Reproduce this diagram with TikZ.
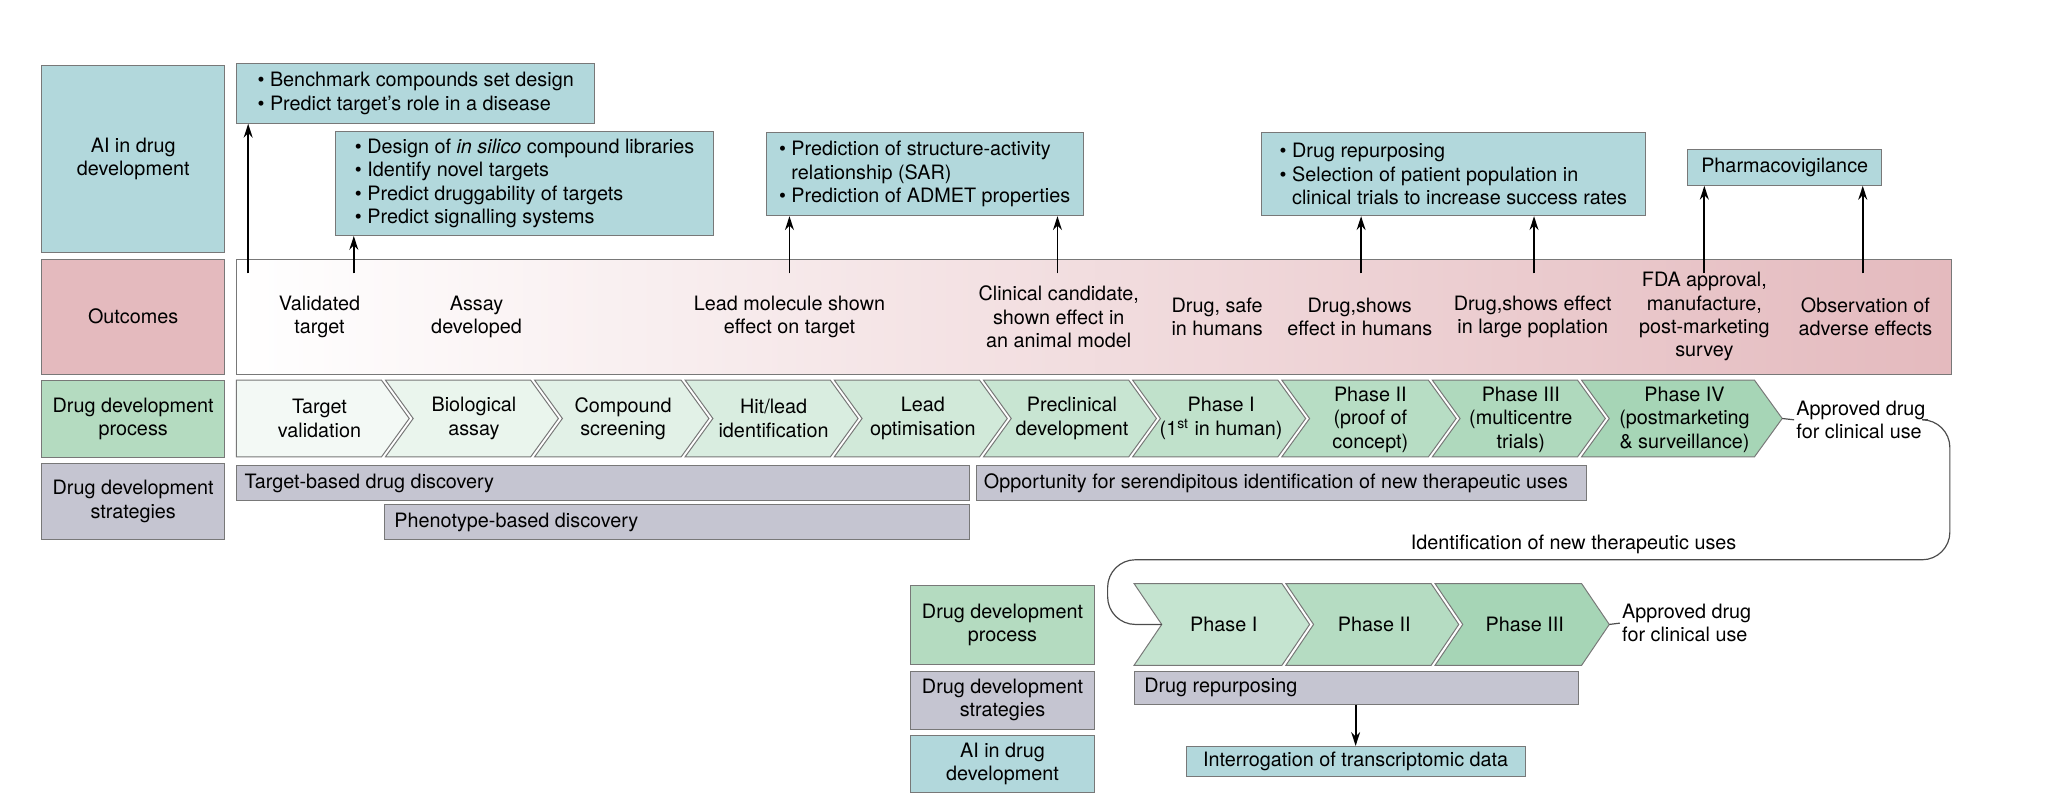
\documentclass[tikz,border=0pt]{standalone}
\usepackage{fontspec}
\setmainfont{TeX Gyre Heros}
\usetikzlibrary{arrows.meta}
\definecolor{aic}{RGB}{178,216,220}
\definecolor{pinkc}{RGB}{228,186,190}
\definecolor{greenc}{RGB}{180,219,192}
\definecolor{greyc}{RGB}{197,197,209}
\definecolor{chevg}{RGB}{166,213,182}
\definecolor{edgec}{RGB}{120,120,120}
\def\pxu{0.6667}
\newcommand\mybox[7]{%
 \pgfmathsetlengthmacro\bw{(#5-(#3))*\pxu}%
 \pgfmathsetlengthmacro\bh{(#6-(#4))*\pxu}%
 \node[#2, minimum width=\bw, minimum height=\bh, anchor=north west] (#1) at (#3,#4) {#7};}
\newcommand\chevA[5]{\draw[chevline, fill=#5] (#1,#3) -- (#2,#3) -- ({#2+21},{(#3+#4)/2}) -- (#2,#4) -- (#1,#4) -- cycle;}
\newcommand\chevB[5]{\draw[chevline, fill=#5] (#1,#3) -- (#2,#3) -- ({#2+21},{(#3+#4)/2}) -- (#2,#4) -- (#1,#4) -- ({#1+21},{(#3+#4)/2}) -- cycle;}
\begin{document}
\begin{tikzpicture}[x=0.6667pt,y=-0.6667pt, font=\fontsize{10}{11.8}\selectfont,
  bbase/.style={draw=edgec, line width=0.5pt, inner sep=2pt, align=center},
  aibox/.style={bbase, fill=aic, align=left},
  labai/.style={bbase, fill=aic},
  labpink/.style={bbase, fill=pinkc},
  labgreen/.style={bbase, fill=greenc},
  labgrey/.style={bbase, fill=greyc},
  stratbox/.style={bbase, fill=greyc},
  outbox/.style={bbase, left color=white, right color=pinkc},
  txt/.style={align=center, inner sep=1pt},
  ltxt/.style={align=left, inner sep=1pt},
  arr/.style={-{Stealth[length=7pt,width=4.5pt]}, line width=0.9pt, black},
  chevline/.style={draw=edgec, line width=0.5pt},
  loopline/.style={draw=black!70, line width=0.6pt},
]
\useasboundingbox (0,0) rectangle (1568,614);

% left labels
\mybox{lai}{labai}{31}{49}{170}{191}{AI in drug\\development}
\mybox{lout}{labpink}{31}{196}{170}{283}{Outcomes}
\mybox{lproc}{labgreen}{31}{288}{170}{346}{Drug development\\process}
\mybox{lstrat}{labgrey}{31}{351}{170}{408}{Drug development\\strategies}

% AI boxes
\mybox{bench}{aibox}{179}{48}{450}{93}{\textbullet\ Benchmark compounds set design\\\textbullet\ Predict target's role in a disease}
\mybox{design}{aibox}{254}{99}{540}{178}{\textbullet\ Design of \textit{in silico} compound libraries\\\textbullet\ Identify novel targets\\\textbullet\ Predict druggability of targets\\\textbullet\ Predict signalling systems}
\mybox{sar}{aibox}{580}{100}{820}{163}{\textbullet\ Prediction of structure-activity\\\phantom{\textbullet}\ relationship (SAR)\\\textbullet\ Prediction of ADMET properties}
\mybox{repur}{aibox}{955}{100}{1246}{163}{\textbullet\ Drug repurposing\\\textbullet\ Selection of patient population in\\\phantom{\textbullet}\ clinical trials to increase success rates}
\mybox{pharma}{aibox}{1278}{113}{1425}{140}{Pharmacovigilance}

% outcomes
\mybox{outc}{outbox}{179}{196}{1478}{283}{}
\node[txt] (o1) at (242,240) {Validated\\target};
\node[txt] (o2) at (361,240) {Assay\\developed};
\node[txt] (o3) at (598,240) {Lead molecule shown\\effect on target};
\node[txt] (o4) at (802,240) {Clinical candidate,\\shown effect in\\an animal model};
\node[txt] (o5) at (922,240) {Drug, safe\\in humans};
\node[txt] (o6) at (1030,240) {Drug,shows\\effect in humans};
\node[txt] (o7) at (1161,240) {Drug,shows effect\\in large poplation};
\node[txt] (o8) at (1291,240) {FDA approval,\\manufacture,\\post-marketing\\survey};
\node[txt] (o9) at (1413,240) {Observation of\\adverse effects};

% arrows up
\coordinate (s1) at (188,207);
\coordinate (s2) at (268,207);
\coordinate (s3) at (598,207);
\coordinate (s4) at (801,207);
\coordinate (s5) at (1031,207);
\coordinate (s6) at (1162,207);
\coordinate (s7) at (1291,207);
\coordinate (s8) at (1411,207);
\draw[arr] (s1) -- (s1 |- bench.south);
\draw[arr] (s2) -- (s2 |- design.south);
\draw[arr] (s3) -- (s3 |- sar.south);
\draw[arr] (s4) -- (s4 |- sar.south);
\draw[arr] (s5) -- (s5 |- repur.south);
\draw[arr] (s6) -- (s6 |- repur.south);
\draw[arr] (s7) -- (s7 |- pharma.south);
\draw[arr] (s8) -- (s8 |- pharma.south);

% process chevrons
\chevA{179}{289}{288}{346}{chevg!14!white}
\chevB{292}{402}{288}{346}{chevg!24!white}
\chevB{405}{516}{288}{346}{chevg!33!white}
\chevB{519}{629}{288}{346}{chevg!43!white}
\chevB{632}{742}{288}{346}{chevg!52!white}
\chevB{745}{855}{288}{346}{chevg!62!white}
\chevB{858}{968}{288}{346}{chevg!71!white}
\chevB{971}{1082}{288}{346}{chevg!81!white}
\chevB{1085}{1195}{288}{346}{chevg!90!white}
\chevB{1198}{1329}{288}{346}{chevg}
\node[txt] (c1) at (242,317) {Target\\validation};
\node[txt] (c2) at (359,317) {Biological\\assay};
\node[txt] (c3) at (472,317) {Compound\\screening};
\node[txt] (c4) at (586,317) {Hit/lead\\identification};
\node[txt] (c5) at (699,317) {Lead\\optimisation};
\node[txt] (c6) at (812,317) {Preclinical\\development};
\node[txt] (c7) at (925,317) {Phase I\\(1\textsuperscript{st} in human)};
\node[txt] (c8) at (1038,318) {Phase II\\(proof of\\concept)};
\node[txt] (c9) at (1152,318) {Phase III\\(multicentre\\trials)};
\node[txt] (c10) at (1276,318) {Phase IV\\(postmarketing\\\& surveillance)};
\coordinate (tip1) at (1350,317);
\node[ltxt, anchor=west] (appr1) at (1359,318) {Approved drug\\for clinical use};
\draw[loopline] (tip1) -- (appr1.west);

% strategies
\mybox{tbd}{stratbox}{179}{352}{734}{379}{}
\node[ltxt, anchor=west] (tbdt) at ([xshift=3pt]tbd.west) {Target-based drug discovery};
\mybox{phen}{stratbox}{291}{382}{734}{408}{}
\node[ltxt, anchor=west] (phent) at ([xshift=4pt]phen.west) {Phenotype-based discovery};
\mybox{opp}{stratbox}{739}{352}{1201}{379}{}
\node[ltxt, anchor=west] (oppt) at ([xshift=3pt]opp.west) {Opportunity for serendipitous identification of new therapeutic uses};

% lower section
\mybox{lproc2}{labgreen}{689}{443}{829}{503}{Drug development\\process}
\mybox{lstrat2}{labgrey}{689}{508}{829}{552}{Drug development\\strategies}
\mybox{lai2}{labai}{689}{557}{829}{600}{AI in drug\\development}

\chevB{859}{971}{442}{504}{chevg!65!white}
\chevB{974}{1084}{442}{504}{chevg!83!white}
\chevB{1087}{1198}{442}{504}{chevg}
\node[txt] (d1) at (927,473) {Phase I};
\node[txt] (d2) at (1041,473) {Phase II};
\node[txt] (d3) at (1155,473) {Phase III};
\coordinate (lp1n) at (880,473);
\coordinate (tip2) at (1219,473);
\node[ltxt, anchor=west] (appr2) at (1227,472) {Approved drug\\for clinical use};
\draw[loopline] (tip2) -- (appr2.west);

\mybox{drp}{stratbox}{859}{508}{1195}{533}{}
\node[ltxt, anchor=west] (drpt) at ([xshift=4pt]drp.west) {Drug repurposing};
\mybox{interr}{aibox}{898}{565}{1155}{588}{Interrogation of transcriptomic data}
\draw[arr] (drp.south -| interr.north) -- (interr.north);

% loop
\coordinate (lr) at (1477,424);
\coordinate (ll) at (839,424);
\draw[loopline, rounded corners=14] (appr1.east) -| (lr) -- (ll) |- (lp1n);
\node[txt] (ident) at (1192,412) {Identification of new therapeutic uses};
\end{tikzpicture}
\end{document}
